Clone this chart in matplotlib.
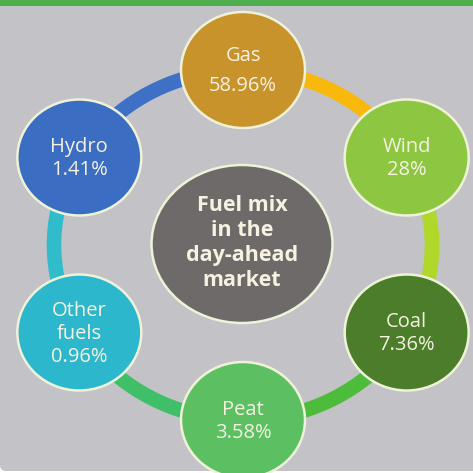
import numpy as np
import matplotlib.pyplot as plt
from matplotlib.patches import Ellipse, FancyBboxPatch, Rectangle

# fuel mix shares, clockwise from the top
fuels = ["Gas", "Wind", "Coal", "Peat", "Other\nfuels", "Hydro"]
shares = ["58.96%", "28%", "7.36%", "3.58%", "0.96%", "1.41%"]
node_colors = ["#c8932b", "#8dc742", "#4b7d2b", "#5cc063", "#2db7cc", "#3b6dc2"]
# ring segment leaving each node, clockwise
ring_colors = ["#f8b90c", "#b0d82a", "#4cbc3a", "#3fbf68", "#30bccb", "#3e70c5"]
center_text = "Fuel mix\nin the\nday-ahead\nmarket"

W = H = 473
cx, cy = 243, 245
rx, ry = 189, 175
node_w, node_h = 124, 116
text_col = "#f6f1e0"
edge_col = "#eef2d8"
line_gap = [1.65, 1.2, 1.2, 1.2, 1.2, 1.2]

fig = plt.figure(figsize=(W / 100, H / 100), dpi=100)
fig.patch.set_facecolor("white")
ax = fig.add_axes([0, 0, 1, 1])
ax.set_xlim(0, W)
ax.set_ylim(H, 0)
ax.axis("off")

# panel and top strip
ax.add_patch(FancyBboxPatch((0, -20), W + 20, H + 18, boxstyle="round,pad=0,rounding_size=6",
                            fc="#c2c2c7", ec="none", zorder=0))
ax.add_patch(Rectangle((0, 0), W, 6, fc="#4daf4e", ec="none", zorder=1))

angles = np.deg2rad(90 - 60 * np.arange(len(fuels)))

# ring arcs between neighbouring nodes
for i, col in enumerate(ring_colors):
    t = np.linspace(angles[i], angles[i] - np.deg2rad(60), 60)
    ax.plot(cx + rx * np.cos(t), cy - ry * np.sin(t), color=col, lw=10.5,
            solid_capstyle="butt", zorder=2)

# center bubble
ax.add_patch(Ellipse((cx - 1, cy - 1), 181, 158, fc="#6f6a6a", ec=edge_col, lw=1.8, zorder=3))
ax.text(cx - 1, cy - 2, center_text, ha="center", va="center", color=text_col,
        fontsize=15.5, fontweight="bold", family="Open Sans", linespacing=1.25, zorder=4)

# fuel nodes
for ang, name, share, col, gap in zip(angles, fuels, shares, node_colors, line_gap):
    x = cx + rx * np.cos(ang)
    y = cy - ry * np.sin(ang)
    ax.add_patch(Ellipse((x, y), node_w, node_h, fc=col, ec=edge_col, lw=1.8, zorder=3))
    ax.text(x, y + 1, f"{name}\n{share}", ha="center", va="center", color=text_col,
            fontsize=14.5, family="Open Sans", linespacing=gap, zorder=4)

fig.savefig("out.png", dpi=100)
